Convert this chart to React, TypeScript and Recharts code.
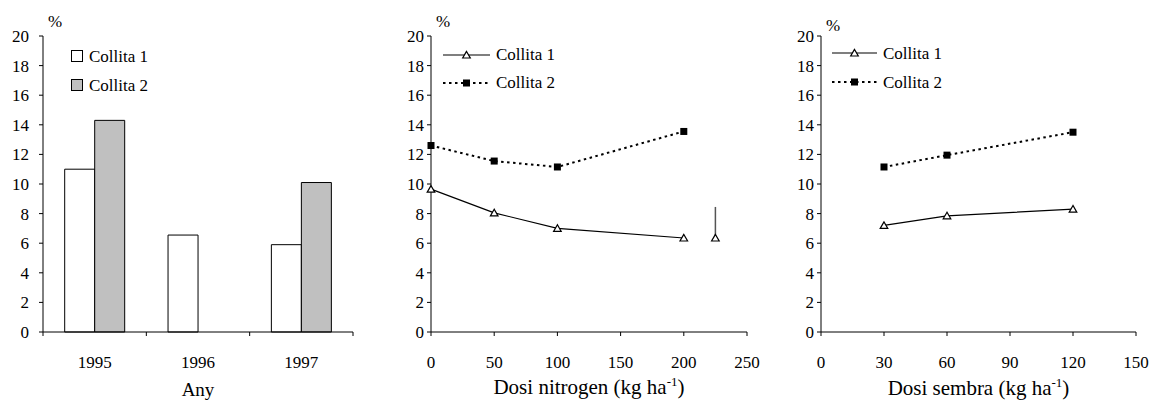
import { Bar, BarChart, ComposedChart, ErrorBar, Label, Legend, Line, Scatter, XAxis, YAxis } from "recharts";

const years = ["1995", "1996", "1997"];
const yearCollita1 = [11.0, 6.55, 5.9];
const yearCollita2: (number | null)[] = [14.3, null, 10.1];

const nitrogenDoses = [0, 50, 100, 200];
const nitrogenCollita1 = [9.65, 8.05, 7.0, 6.35];
const nitrogenCollita2 = [12.6, 11.55, 11.15, 13.55];
// LSD marker drawn to the right of the nitrogen curves
const nitrogenLsdDose = [225];
const nitrogenLsdValue = [6.35];
const nitrogenLsdSpan = [2.1];

const seedDoses = [30, 60, 120];
const seedCollita1 = [7.2, 7.85, 8.3];
const seedCollita2 = [11.15, 11.95, 13.5];

const percentTicks = [0, 2, 4, 6, 8, 10, 12, 14, 16, 18, 20];
const nitrogenTicks = [0, 50, 100, 150, 200, 250];
const seedTicks = [0, 30, 60, 90, 120, 150];
const seriesNames = ["Collita 1", "Collita 2"];

const FONT = "Liberation Serif, DejaVu Serif, serif";
const BORDER = "#a0a0a0";
const BAR_GREY = "#c0c0c0";
const tickStyle = { fontSize: 17, fill: "#000", fontFamily: FONT };
const axisStroke = { stroke: "#000", strokeWidth: 1 };
const frameStroke = { stroke: BORDER, strokeWidth: 2 };
const DOTTED = "2.5 3.5";

const yearRows = years.map((year, i) => ({ year, c1: yearCollita1[i], c2: yearCollita2[i] }));
const nitrogenRows = nitrogenDoses.map((dose, i) => ({ dose, c1: nitrogenCollita1[i], c2: nitrogenCollita2[i] }));
const nitrogenLsdRows = nitrogenLsdDose.map((dose, i) => ({
  dose,
  value: nitrogenLsdValue[i],
  span: [0, nitrogenLsdSpan[i]],
}));
const seedRows = seedDoses.map((dose, i) => ({ dose, c1: seedCollita1[i], c2: seedCollita2[i] }));

const Triangle = ({ cx, cy }: { cx: number; cy: number }) => (
  <polygon
    points={`${cx},${cy - 3.6} ${cx - 3.8},${cy + 3} ${cx + 3.8},${cy + 3}`}
    fill="#fff"
    stroke="#000"
    strokeWidth={1.2}
  />
);

const Square = ({ cx, cy }: { cx: number; cy: number }) => (
  <rect x={cx - 3.5} y={cy - 3.5} width={7} height={7} fill="#000" />
);

const percentLabel = (lift: number) => (props: any) => {
  const vb = props.viewBox;
  return (
    <text x={vb.x + vb.width + 12} y={vb.y - lift} textAnchor="middle" fontSize={17} fontFamily={FONT} fill="#000">
      %
    </text>
  );
};

const axisTitle = (text: string, perHectare: boolean, size: number, drop: number) => (props: any) => {
  const vb = props.viewBox;
  return (
    <text x={vb.x + vb.width / 2} y={vb.y + drop} textAnchor="middle" fontSize={size} fontFamily={FONT} fill="#000">
      {text}
      {perHectare && (
        <>
          <tspan dy={-8} fontSize={13}>
            -1
          </tspan>
          <tspan dy={8}>)</tspan>
        </>
      )}
    </text>
  );
};

const bandWidth = (400 - 47 - 43) / years.length;

const YearTick = (props: any) => {
  const { x, y, payload } = props;
  const axisY = y - 24;
  const isLast = payload.value === years[years.length - 1];
  return (
    <g>
      <line x1={x - bandWidth / 2} x2={x - bandWidth / 2} y1={axisY} y2={axisY + 4} stroke="#000" />
      {isLast && <line x1={x + bandWidth / 2} x2={x + bandWidth / 2} y1={axisY} y2={axisY + 4} stroke="#000" />}
      <text x={x} y={y} dy="0.71em" textAnchor="middle" fontSize={17} fontFamily={FONT} fill="#000">
        {payload.value}
      </text>
    </g>
  );
};

const BoxLegend = () => (
  <div style={{ fontFamily: FONT, fontSize: 17, lineHeight: "29px", color: "#000" }}>
    {seriesNames.map((name, i) => (
      <div key={name} style={{ display: "flex", alignItems: "center", whiteSpace: "nowrap" }}>
        <svg width={12} height={12} style={{ marginRight: 6 }}>
          <rect x={0.5} y={0.5} width={11} height={11} fill={i === 0 ? "#fff" : BAR_GREY} stroke="#000" />
        </svg>
        <span>{name}</span>
      </div>
    ))}
  </div>
);

const LineLegend = ({ lineLength, rowHeight }: { lineLength: number; rowHeight: number }) => (
  <div style={{ fontFamily: FONT, fontSize: 17, lineHeight: `${rowHeight}px`, color: "#000" }}>
    {seriesNames.map((name, i) => (
      <div key={name} style={{ display: "flex", alignItems: "center", whiteSpace: "nowrap" }}>
        <svg width={lineLength} height={12} style={{ marginRight: 6 }}>
          <line
            x1={0}
            x2={lineLength}
            y1={6}
            y2={6}
            stroke="#000"
            strokeWidth={i === 0 ? 1.2 : 2}
            strokeDasharray={i === 0 ? undefined : DOTTED}
          />
          {i === 0 ? <Triangle cx={lineLength / 2} cy={6} /> : <Square cx={lineLength / 2} cy={6} />}
        </svg>
        <span>{name}</span>
      </div>
    ))}
  </div>
);

const YearChart = () => (
  <BarChart
    width={400}
    height={401}
    data={yearRows}
    margin={{ top: 36, right: 47, bottom: 9, left: 0 }}
    barCategoryGap="21%"
    barGap={0}
  >
    <XAxis
      dataKey="year"
      height={60}
      tickLine={false}
      tickSize={4}
      tickMargin={20}
      interval={0}
      axisLine={axisStroke}
      tick={(p: any) => <YearTick {...p} />}
    >
      <Label content={axisTitle("Any", false, 19, 64)} />
    </XAxis>
    <YAxis
      domain={[0, 20]}
      ticks={percentTicks}
      interval={0}
      width={43}
      tickSize={4}
      tickMargin={10}
      tick={tickStyle}
      axisLine={axisStroke}
      tickLine={axisStroke}
    >
      <Label content={percentLabel(9)} />
    </YAxis>
    <XAxis xAxisId="frame" orientation="top" type="number" domain={[0, 1]} height={0} tick={false} tickLine={false} axisLine={frameStroke} />
    <YAxis yAxisId="frame" orientation="right" domain={[0, 1]} width={0} tick={false} tickLine={false} axisLine={frameStroke} />
    <Bar dataKey="c1" name={seriesNames[0]} fill="#fff" stroke="#000" strokeWidth={1} isAnimationActive={false} />
    <Bar dataKey="c2" name={seriesNames[1]} fill={BAR_GREY} stroke="#000" strokeWidth={1} isAnimationActive={false} />
    <Legend
      layout="vertical"
      align="center"
      verticalAlign="middle"
      wrapperStyle={{ top: 41.5, left: 71, width: "auto", height: "auto" }}
      content={() => <BoxLegend />}
    />
  </BarChart>
);

const NitrogenChart = () => (
  <ComposedChart width={400} height={401} data={nitrogenRows} margin={{ top: 36, right: 43, bottom: 9, left: 0 }}>
    <XAxis
      dataKey="dose"
      type="number"
      domain={[0, 250]}
      ticks={nitrogenTicks}
      interval={0}
      height={60}
      tickSize={4}
      tickMargin={20}
      tick={tickStyle}
      axisLine={axisStroke}
      tickLine={axisStroke}
    >
      <Label content={axisTitle("Dosi nitrogen (kg ha", true, 21, 62)} />
    </XAxis>
    <YAxis
      domain={[0, 20]}
      ticks={percentTicks}
      interval={0}
      width={41}
      tickSize={4}
      tickMargin={3}
      tick={tickStyle}
      axisLine={axisStroke}
      tickLine={axisStroke}
    >
      <Label content={percentLabel(9)} />
    </YAxis>
    <XAxis xAxisId="frame" orientation="top" type="number" domain={[0, 1]} height={0} tick={false} tickLine={false} axisLine={frameStroke} />
    <YAxis yAxisId="frame" orientation="right" domain={[0, 1]} width={0} tick={false} tickLine={false} axisLine={frameStroke} />
    <Line
      dataKey="c1"
      name={seriesNames[0]}
      stroke="#000"
      strokeWidth={1.2}
      dot={(p: any) => <Triangle key={p.index} cx={p.cx} cy={p.cy} />}
      activeDot={false}
      isAnimationActive={false}
    />
    <Line
      dataKey="c2"
      name={seriesNames[1]}
      stroke="#000"
      strokeWidth={2}
      strokeDasharray={DOTTED}
      dot={(p: any) => <Square key={p.index} cx={p.cx} cy={p.cy} />}
      activeDot={false}
      isAnimationActive={false}
    />
    <Scatter
      data={nitrogenLsdRows}
      dataKey="value"
      legendType="none"
      shape={(p: any) => <Triangle cx={p.cx} cy={p.cy} />}
      isAnimationActive={false}
    >
      <ErrorBar dataKey="span" direction="y" width={0} stroke="#555" strokeWidth={1.5} isAnimationActive={false} />
    </Scatter>
    <Legend
      layout="vertical"
      align="center"
      verticalAlign="middle"
      wrapperStyle={{ top: 41, left: 53, width: "auto", height: "auto" }}
      content={() => <LineLegend lineLength={47} rowHeight={28} />}
    />
  </ComposedChart>
);

const SeedChart = () => (
  <ComposedChart width={371} height={401} data={seedRows} margin={{ top: 36, right: 15, bottom: 9, left: 0 }}>
    <XAxis
      dataKey="dose"
      type="number"
      domain={[0, 150]}
      ticks={seedTicks}
      interval={0}
      height={60}
      tickSize={4}
      tickMargin={20}
      tick={tickStyle}
      axisLine={axisStroke}
      tickLine={axisStroke}
    >
      <Label content={axisTitle("Dosi sembra (kg ha", true, 21, 63)} />
    </XAxis>
    <YAxis
      domain={[0, 20]}
      ticks={percentTicks}
      interval={0}
      width={41}
      tickSize={4}
      tickMargin={3}
      tick={tickStyle}
      axisLine={axisStroke}
      tickLine={axisStroke}
    >
      <Label content={percentLabel(5)} />
    </YAxis>
    <XAxis xAxisId="frame" orientation="top" type="number" domain={[0, 1]} height={0} tick={false} tickLine={false} axisLine={frameStroke} />
    <YAxis yAxisId="frame" orientation="right" domain={[0, 1]} width={0} tick={false} tickLine={false} axisLine={frameStroke} />
    <Line
      dataKey="c1"
      name={seriesNames[0]}
      stroke="#000"
      strokeWidth={1.2}
      dot={(p: any) => <Triangle key={p.index} cx={p.cx} cy={p.cy} />}
      activeDot={false}
      isAnimationActive={false}
    />
    <Line
      dataKey="c2"
      name={seriesNames[1]}
      stroke="#000"
      strokeWidth={2}
      strokeDasharray={DOTTED}
      dot={(p: any) => <Square key={p.index} cx={p.cx} cy={p.cy} />}
      activeDot={false}
      isAnimationActive={false}
    />
    <Legend
      layout="vertical"
      align="center"
      verticalAlign="middle"
      wrapperStyle={{ top: 38.5, left: 52, width: "auto", height: "auto" }}
      content={() => <LineLegend lineLength={45} rowHeight={29} />}
    />
  </ComposedChart>
);

export default function App() {
  return (
    <div style={{ position: "absolute", left: 0, top: 0, width: 1151, height: 401, background: "#fff", fontFamily: FONT }}>
      <div style={{ position: "absolute", left: 0, top: 0 }}>
        <YearChart />
      </div>
      <div style={{ position: "absolute", left: 390, top: 0 }}>
        <NitrogenChart />
      </div>
      <div style={{ position: "absolute", left: 780, top: 0 }}>
        <SeedChart />
      </div>
    </div>
  );
}
